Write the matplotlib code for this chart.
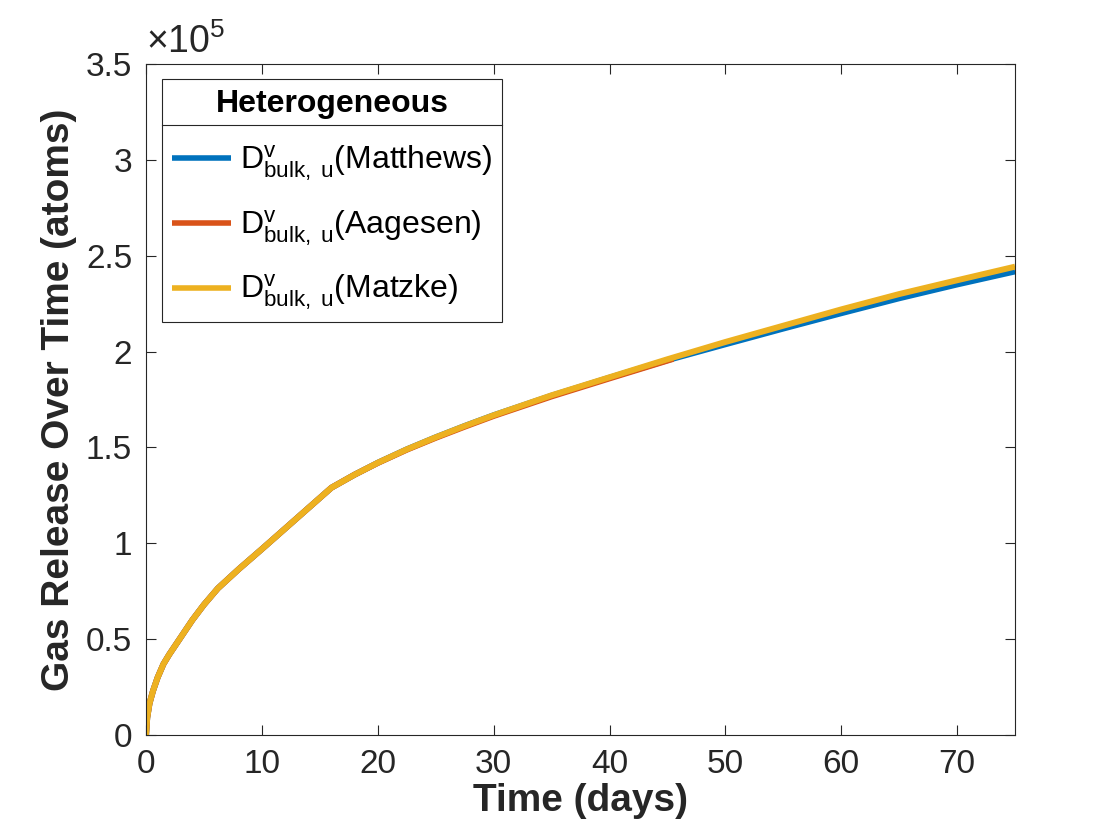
import matplotlib
matplotlib.use("Agg")
import matplotlib.pyplot as plt
from matplotlib.ticker import FuncFormatter, MultipleLocator
from matplotlib.lines import Line2D

plt.rcParams['font.family'] = ['Liberation Sans', 'DejaVu Sans']
plt.rcParams['mathtext.fontset'] = 'custom'
plt.rcParams['mathtext.rm'] = 'Liberation Sans'
plt.rcParams['mathtext.it'] = 'Liberation Sans:italic'
plt.rcParams['mathtext.bf'] = 'Liberation Sans:bold'

# ---- data (days, atoms) ----
t_matthews = [0, 0.1, 0.3, 0.6, 1, 1.5, 2, 3, 4, 5, 6.2, 8, 10, 13, 16, 18, 20,
              22.5, 25, 27.5, 30, 35, 40, 45, 50, 55, 60, 65, 70, 75]
gas_matthews = [0, 0.09e5, 0.165e5, 0.23e5, 0.30e5, 0.37e5, 0.42e5, 0.51e5, 0.60e5,
                0.68e5, 0.765e5, 0.865e5, 0.97e5, 1.13e5, 1.29e5, 1.358e5, 1.42e5,
                1.49e5, 1.553e5, 1.612e5, 1.668e5, 1.77e5, 1.864e5, 1.955e5,
                2.038e5, 2.12e5, 2.2e5, 2.278e5, 2.35e5, 2.418e5]

t_aagesen = [0, 0.1, 0.3, 0.6, 1, 1.5, 2, 3, 4, 5, 6.2, 8, 10, 13, 16, 18, 20,
             22.5, 25, 27.5, 30, 35, 40, 45.5]
gas_aagesen = [0, 0.09e5, 0.165e5, 0.23e5, 0.30e5, 0.37e5, 0.42e5, 0.51e5, 0.60e5,
               0.68e5, 0.765e5, 0.865e5, 0.97e5, 1.13e5, 1.29e5, 1.358e5, 1.419e5,
               1.488e5, 1.55e5, 1.608e5, 1.664e5, 1.766e5, 1.86e5, 1.962e5]

t_matzke = [0, 0.1, 0.3, 0.6, 1, 1.5, 2, 3, 4, 5, 6.2, 8, 10, 13, 16, 18, 20,
            22.5, 25, 27.5, 30, 35, 40, 45, 50, 55, 60, 65, 70, 75]
gas_matzke = [0, 0.09e5, 0.165e5, 0.23e5, 0.30e5, 0.37e5, 0.42e5, 0.51e5, 0.60e5,
              0.68e5, 0.765e5, 0.865e5, 0.97e5, 1.13e5, 1.29e5, 1.358e5, 1.42e5,
              1.49e5, 1.553e5, 1.612e5, 1.668e5, 1.772e5, 1.866e5, 1.96e5,
              2.05e5, 2.135e5, 2.22e5, 2.30e5, 2.372e5, 2.443e5]

labels = [r'$\mathrm{D}^{\mathrm{v}}_{\mathrm{bulk,\ u}}$(Matthews)',
          r'$\mathrm{D}^{\mathrm{v}}_{\mathrm{bulk,\ u}}$(Aagesen)',
          r'$\mathrm{D}^{\mathrm{v}}_{\mathrm{bulk,\ u}}$(Matzke)']
colors = ['#0072BD', '#D95319', '#EDB120']
legend_title = 'Heterogeneous'
xlabel = 'Time (days)'
ylabel = 'Gas Release Over Time (atoms)'

fig = plt.figure(figsize=(11.2, 8.4), dpi=100)
ax = fig.add_axes([0.1304, 0.125, 0.7759, 0.7988])

lw = 4.3
ax.plot(t_matthews, gas_matthews, color=colors[0], lw=lw, label=labels[0],
        solid_capstyle='butt')
ax.plot(t_aagesen, gas_aagesen, color=colors[1], lw=lw, label=labels[1],
        solid_capstyle='butt')
ax.plot(t_matzke, gas_matzke, color=colors[2], lw=lw, label=labels[2],
        solid_capstyle='butt')

ax.set_xlim(0, 75)
ax.set_ylim(0, 3.5e5)
ax.xaxis.set_major_locator(MultipleLocator(10))
ax.yaxis.set_major_locator(MultipleLocator(0.5e5))
ax.yaxis.set_major_formatter(FuncFormatter(lambda v, p: f'{v/1e5:g}'))

axcol = '#262626'
for s in ax.spines.values():
    s.set_linewidth(0.8)
    s.set_color(axcol)
ax.tick_params(direction='in', length=7, width=0.8, colors=axcol,
               labelsize=24, top=True, right=True, labelcolor='#262626')
ax.tick_params(axis='x', pad=10)
ax.tick_params(axis='y', pad=10)

ax.set_xlabel(xlabel, fontsize=28, fontweight='bold', color='#262626', labelpad=2)
ax.set_ylabel(ylabel, fontsize=28, fontweight='bold', color='#262626', labelpad=6)

ax.text(0.0, 1.004, r'$\times\mathregular{10^{5}}$', transform=ax.transAxes,
        fontsize=27, ha='left', va='bottom', color='#262626')

leg = ax.legend(loc='upper left', bbox_to_anchor=(0.0184, 0.9776),
                borderaxespad=0, fancybox=False, edgecolor='#262626',
                framealpha=1, fontsize=23, title=legend_title,
                title_fontproperties={'size': 23, 'weight': 'bold'},
                handlelength=1.85, handletextpad=0.3, labelspacing=0.78,
                borderpad=0.3)
leg.get_frame().set_linewidth(0.8)
for h in leg.get_lines():
    h.set_linewidth(4)

fig.canvas.draw()
r = fig.canvas.get_renderer()
fb = leg.get_frame().get_window_extent(r)
tb = leg.get_title().get_window_extent(r)
inv = fig.transFigure.inverted()
ysep = tb.y0 - 6
(x0, y0) = inv.transform((fb.x0, ysep))
(x1, _) = inv.transform((fb.x1, ysep))
fig.add_artist(Line2D([x0, x1], [y0, y0], color='#262626', lw=0.8,
                      transform=fig.transFigure))

fig.savefig('out.png', dpi=100, facecolor='white')
